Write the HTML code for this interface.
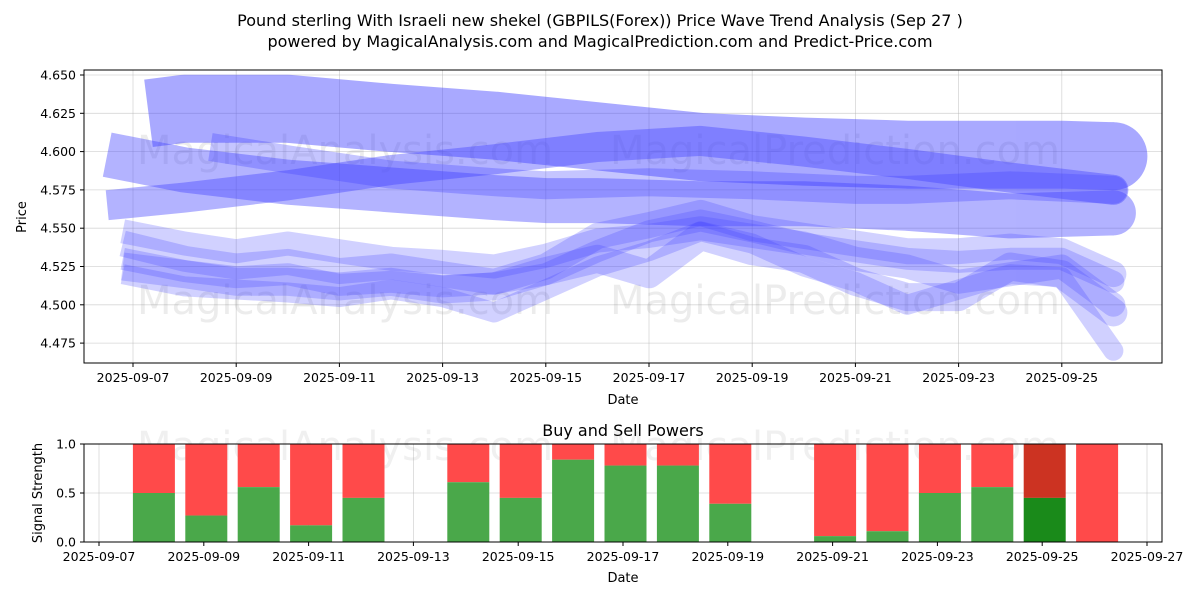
<!DOCTYPE html>
<html><head><meta charset="utf-8"><style>
body{margin:0;background:#fff;font-family:"Liberation Sans","DejaVu Sans",sans-serif}
svg text{font-family:"DejaVu Sans","Liberation Sans",sans-serif}
</style></head><body>
<svg id="c" width="1200" height="600" xmlns="http://www.w3.org/2000/svg">
<text x="600" y="26" text-anchor="middle" font-size="16">Pound sterling With Israeli new shekel (GBPILS(Forex)) Price Wave Trend Analysis (Sep 27 )</text>
<text x="600" y="47" text-anchor="middle" font-size="16">powered by MagicalAnalysis.com and MagicalPrediction.com and Predict-Price.com</text>
<defs><clipPath id="cp"><rect x="84" y="70" width="1078" height="293"/></clipPath></defs>
<g id="topG"></g>
<g id="botG"></g>
</svg>
<script>
const tickPrices=[4.475,4.500,4.525,4.550,4.575,4.600,4.625,4.650];
const topDates=[7,9,11,13,15,17,19,21,23,25];
const waveDays=[[7.3,8,10,12,14,16,18,20,22,24,25,26],
[6.5,8,10,12,14,15,16,18,20,22,24,26],
[6.5,8,10,12,14,16,18,20,22,24,26],
[8.5,10,12,14,15,17,19,21,22,24,26]];
const wavePrices=[[4.625,4.628,4.628,4.622,4.617,4.610,4.603,4.600,4.598,4.598,4.598,4.597],
[4.598,4.588,4.580,4.575,4.570,4.568,4.568,4.566,4.566,4.563,4.558,4.560],
[4.565,4.570,4.578,4.588,4.595,4.603,4.607,4.600,4.592,4.583,4.575],
[4.603,4.595,4.585,4.580,4.578,4.580,4.578,4.575,4.575,4.578,4.575]];
const waveW=[68,45,30,28];
const waveOp=[0.45,0.4,0.4,0.3];
const lowDays=[6.8,8,9,10,11,12,13,14,15,16,17,18,19,20,21,22,23,24,25,26];
const lowPrices=[
[4.530,4.522,4.518,4.520,4.513,4.515,4.512,4.514,4.520,4.535,4.548,4.555,4.548,4.540,4.535,4.530,4.528,4.530,4.530,4.515],
[4.540,4.530,4.525,4.528,4.522,4.525,4.520,4.515,4.525,4.545,4.552,4.560,4.550,4.545,4.540,4.535,4.535,4.538,4.535,4.520],
[4.520,4.512,4.510,4.508,4.505,4.510,4.505,4.495,4.510,4.525,4.535,4.548,4.540,4.525,4.515,4.500,4.510,4.520,4.518,4.470],
[4.548,4.540,4.535,4.540,4.535,4.530,4.528,4.525,4.532,4.542,4.545,4.550,4.545,4.540,4.530,4.525,4.515,4.520,4.525,4.500],
[4.525,4.520,4.515,4.515,4.512,4.515,4.510,4.512,4.522,4.530,4.520,4.545,4.535,4.530,4.515,4.505,4.505,4.525,4.520,4.495]];
const lowW=[22,26,20,24,28];
const barDays=[8,9,10,11,12,14,15,16,17,18,19,21,22,23,24,25,26];
const buyVals=[0.5,0.27,0.56,0.17,0.45,0.61,0.45,0.84,0.78,0.78,0.39,0.06,0.11,0.5,0.56,0.45,0.0];
const botDates=[7,9,11,13,15,17,19,21,23,25,27];
const botTicks=[0,0.5,1.0];

const NS="http://www.w3.org/2000/svg";
function mk(t,a,p){const e=document.createElementNS(NS,t);for(const k in a)e.setAttribute(k,a[k]);p.appendChild(e);return e;}
const xT=d=>133+(d-7)*51.6;
const yT=p=>75+(4.650-p)*1532;
const xB=d=>99+(d-7)*52.4;
const yB=v=>542-v*98;
const topG=document.getElementById('topG'), botG=document.getElementById('botG');
topDates.forEach(d=>{const l=mk('line',{x1:xT(d),x2:xT(d),y1:70,y2:363,stroke:'#b0b0b0','stroke-width':0.8,'stroke-opacity':0.5},topG);});
tickPrices.forEach(p=>{const l=mk('line',{x1:84,x2:1162,y1:yT(p),y2:yT(p),stroke:'#b0b0b0','stroke-width':0.8,'stroke-opacity':0.5},topG);});
[[345,150,'MagicalAnalysis.com'],[345,300,'MagicalAnalysis.com'],[835,150,'MagicalPrediction.com'],[835,300,'MagicalPrediction.com']].forEach(w=>{const t=mk('text',{x:w[0],y:w[1]+14,'text-anchor':'middle','font-size':40,fill:'#808080','fill-opacity':0.15},topG);t.textContent=w[2];});
const g=mk('g',{'clip-path':'url(#cp)'},topG);
const ptsStr=(ds,ps)=>ds.map((d,i)=>xT(d).toFixed(1)+','+yT(ps[i]).toFixed(1)).join(' ');
function band(ds,ps,w,op,name){
  const gg=mk('g',{opacity:op},g);
  
  
  mk('polyline',{points:ptsStr(ds,ps),fill:'none',stroke:'#4040ff','stroke-width':w,'stroke-linejoin':'round','stroke-linecap':'butt'},gg);
  const n=ds.length-1;
  mk('circle',{cx:xT(ds[n]),cy:yT(ps[n]),r:w/2,fill:'#4040ff'},gg);
}
wavePrices.forEach((ps,i)=>band(waveDays[i],ps,waveW[i],waveOp[i],'wave-band'));
lowPrices.forEach((ps,i)=>band(lowDays,ps,lowW[i],0.24,'wave-line'));
mk('rect',{x:84,y:70,width:1078,height:293,fill:'none',stroke:'#000','stroke-width':1},topG);
tickPrices.forEach(p=>{mk('line',{x1:80,x2:84,y1:yT(p),y2:yT(p),stroke:'#000'},topG);const t=mk('text',{x:76,y:yT(p)+4.5,'text-anchor':'end','font-size':12.5},topG);t.textContent=p.toFixed(3);});
topDates.forEach(d=>{mk('line',{x1:xT(d),x2:xT(d),y1:363,y2:367,stroke:'#000'},topG);const t=mk('text',{x:xT(d),y:382,'text-anchor':'middle','font-size':12.5},topG);t.textContent='2025-09-'+String(d).padStart(2,'0');});
let t=mk('text',{x:623,y:404,'text-anchor':'middle','font-size':13},topG);t.textContent='Date';
t=mk('text',{x:26,y:217,'text-anchor':'middle','font-size':13,transform:'rotate(-90 26 217)'},topG);t.textContent='Price';
t=mk('text',{x:623,y:436,'text-anchor':'middle','font-size':16},botG);t.textContent='Buy and Sell Powers';
botDates.forEach(d=>{const l=mk('line',{x1:xB(d),x2:xB(d),y1:444,y2:542,stroke:'#b0b0b0','stroke-width':0.8,'stroke-opacity':0.5},botG);});
botTicks.forEach(v=>{const l=mk('line',{x1:84,x2:1162,y1:yB(v),y2:yB(v),stroke:'#b0b0b0','stroke-width':0.8,'stroke-opacity':0.5},botG);});
t=mk('text',{x:345,y:460,'text-anchor':'middle','font-size':40,fill:'#808080','fill-opacity':0.12},botG);t.textContent='MagicalAnalysis.com';
t=mk('text',{x:835,y:460,'text-anchor':'middle','font-size':40,fill:'#808080','fill-opacity':0.12},botG);t.textContent='MagicalPrediction.com';
barDays.forEach((d,i)=>{const last=d===25;const v=buyVals[i];const bx=xB(d)+2.5-21;
const r=mk('rect',{x:bx,y:yB(1),width:42,height:yB(v)-yB(1),fill:last?'#cc3322':'#ff4a4a'},botG);
const gr=mk('rect',{x:bx,y:yB(v),width:42,height:yB(0)-yB(v),fill:last?'#1a8a1a':'#4aa84a'},botG);});
mk('rect',{x:84,y:444,width:1078,height:98,fill:'none',stroke:'#000','stroke-width':1},botG);
botTicks.forEach(v=>{mk('line',{x1:80,x2:84,y1:yB(v),y2:yB(v),stroke:'#000'},botG);const t=mk('text',{x:76,y:yB(v)+4.5,'text-anchor':'end','font-size':12.5},botG);t.textContent=v.toFixed(1);});
botDates.forEach(d=>{mk('line',{x1:xB(d),x2:xB(d),y1:542,y2:546,stroke:'#000'},botG);const t=mk('text',{x:xB(d),y:561,'text-anchor':'middle','font-size':12.5},botG);t.textContent='2025-09-'+String(d).padStart(2,'0');});
t=mk('text',{x:623,y:582,'text-anchor':'middle','font-size':13},botG);t.textContent='Date';
t=mk('text',{x:42,y:493,'text-anchor':'middle','font-size':13,transform:'rotate(-90 42 493)'},botG);t.textContent='Signal Strength';
</script>
</body></html>
